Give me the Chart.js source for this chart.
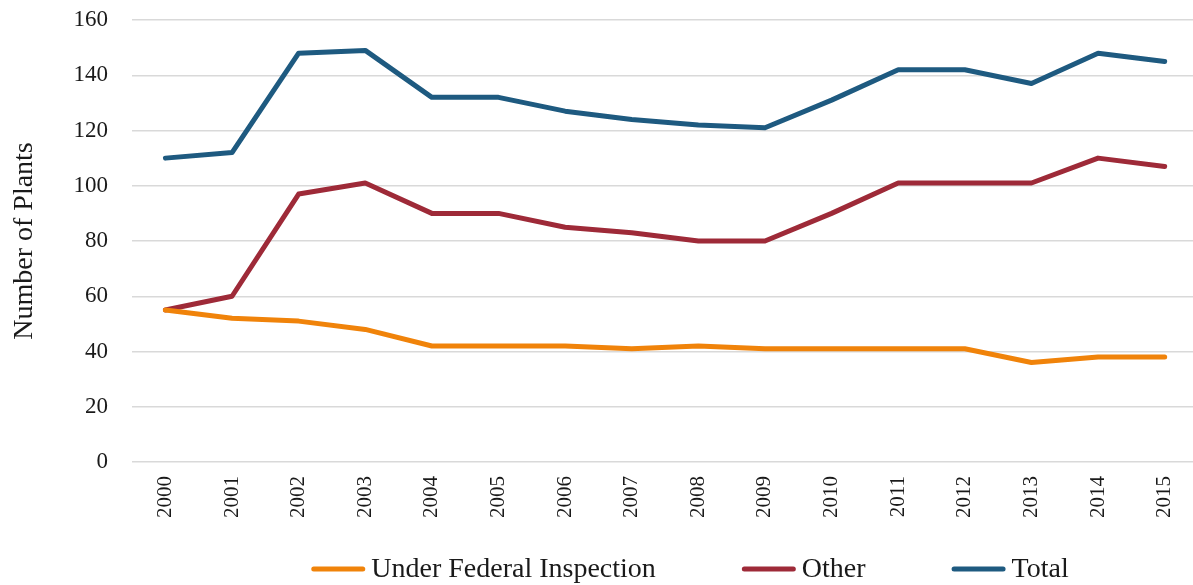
<!DOCTYPE html>
<html>
<head>
<meta charset="utf-8">
<script src="https://cdn.jsdelivr.net/npm/chart.js@4"></script>
<style>
  html, body { margin: 0; padding: 0; background: #fff; overflow: hidden; }
  #wrap { width: 1198px; height: 585px; }
</style>
</head>
<body>
<div id="wrap"><canvas id="myChart"></canvas></div>
<script>
const years = ["2000", "2001", "2002", "2003", "2004", "2005", "2006", "2007",
  "2008", "2009", "2010", "2011", "2012", "2013", "2014", "2015"];
const federal = [55, 52, 51, 48, 42, 42, 42, 41, 42, 41, 41, 41, 41, 36, 38, 38];
const other = [55, 60, 97, 101, 90, 90, 85, 83, 80, 80, 90, 101, 101, 101, 110, 107];
const total = [110, 112, 148, 149, 132, 132, 127, 124, 122, 121, 131, 142, 142, 137, 148, 145];

const FONT = "'Liberation Serif', 'DejaVu Serif', serif";

function line(label, values, color) {
  return {
    label: label,
    data: values,
    borderColor: color,
    backgroundColor: color,
    borderWidth: 5,
    borderCapStyle: "round",
    borderJoinStyle: "round",
    pointRadius: 0,
    tension: 0,
  };
}

// legend drawn by hand so the spacing looks like the Excel one
const lineLegend = {
  id: "lineLegend",
  afterDraw(chart) {
    const c = chart.ctx;
    const sets = chart.data.datasets;
    const swatch = 54, gap = 6, between = 86;
    c.save();
    c.font = "28px " + FONT;
    const widths = sets.map((d) => c.measureText(d.label).width);
    let full = 0;
    widths.forEach((w, i) => { full += swatch + gap + w + (i > 0 ? between : 0); });
    let x = 690 - full / 2;
    const y = 569;
    sets.forEach((d, i) => {
      c.strokeStyle = d.borderColor;
      c.lineWidth = 5;
      c.lineCap = "round";
      c.beginPath();
      c.moveTo(x + 2.5, y);
      c.lineTo(x + swatch - 2.5, y);
      c.stroke();
      x += swatch + gap;
      c.fillStyle = "#1a1a1a";
      c.textBaseline = "middle";
      c.fillText(d.label, x, y + 1);
      x += widths[i] + between;
    });
    c.restore();
  },
};

const ctx = document.getElementById("myChart").getContext("2d");

new Chart(ctx, {
  type: "line",
  data: {
    labels: years,
    datasets: [
      line("Under Federal Inspection", federal, "#f0830a"),
      line("Other", other, "#9e2a38"),
      line("Total", total, "#1e5a80"),
    ],
  },
  options: {
    responsive: true,
    maintainAspectRatio: false,
    animation: false,
    layout: { padding: { left: 8, right: 0, top: 20, bottom: 61 } },
    scales: {
      x: {
        offset: true,
        afterFit(scale) {
          scale.paddingLeft = 0;
          scale.paddingRight = 0;
        },
        grid: { display: false },
        border: { display: false },
        ticks: {
          color: "#1a1a1a",
          font: { family: FONT, size: 21 },
          maxRotation: 90,
          minRotation: 90,
          padding: 6,
        },
      },
      y: {
        min: 0,
        max: 160,
        afterFit(scale) {
          scale.paddingTop = 0;
          scale.paddingBottom = 0;
        },
        ticks: {
          stepSize: 20,
          color: "#1a1a1a",
          font: { family: FONT, size: 23 },
          padding: 24,
        },
        grid: { color: "#d9d9d9", lineWidth: 1.5, drawTicks: false },
        border: { display: false },
        title: {
          display: true,
          text: "Number of Plants",
          color: "#1a1a1a",
          font: { family: FONT, size: 28 },
          padding: { top: 0, bottom: 8 },
        },
      },
    },
    plugins: {
      legend: { display: false },
      tooltip: { enabled: false },
    },
  },
  plugins: [lineLegend],
});
</script>
</body>
</html>
